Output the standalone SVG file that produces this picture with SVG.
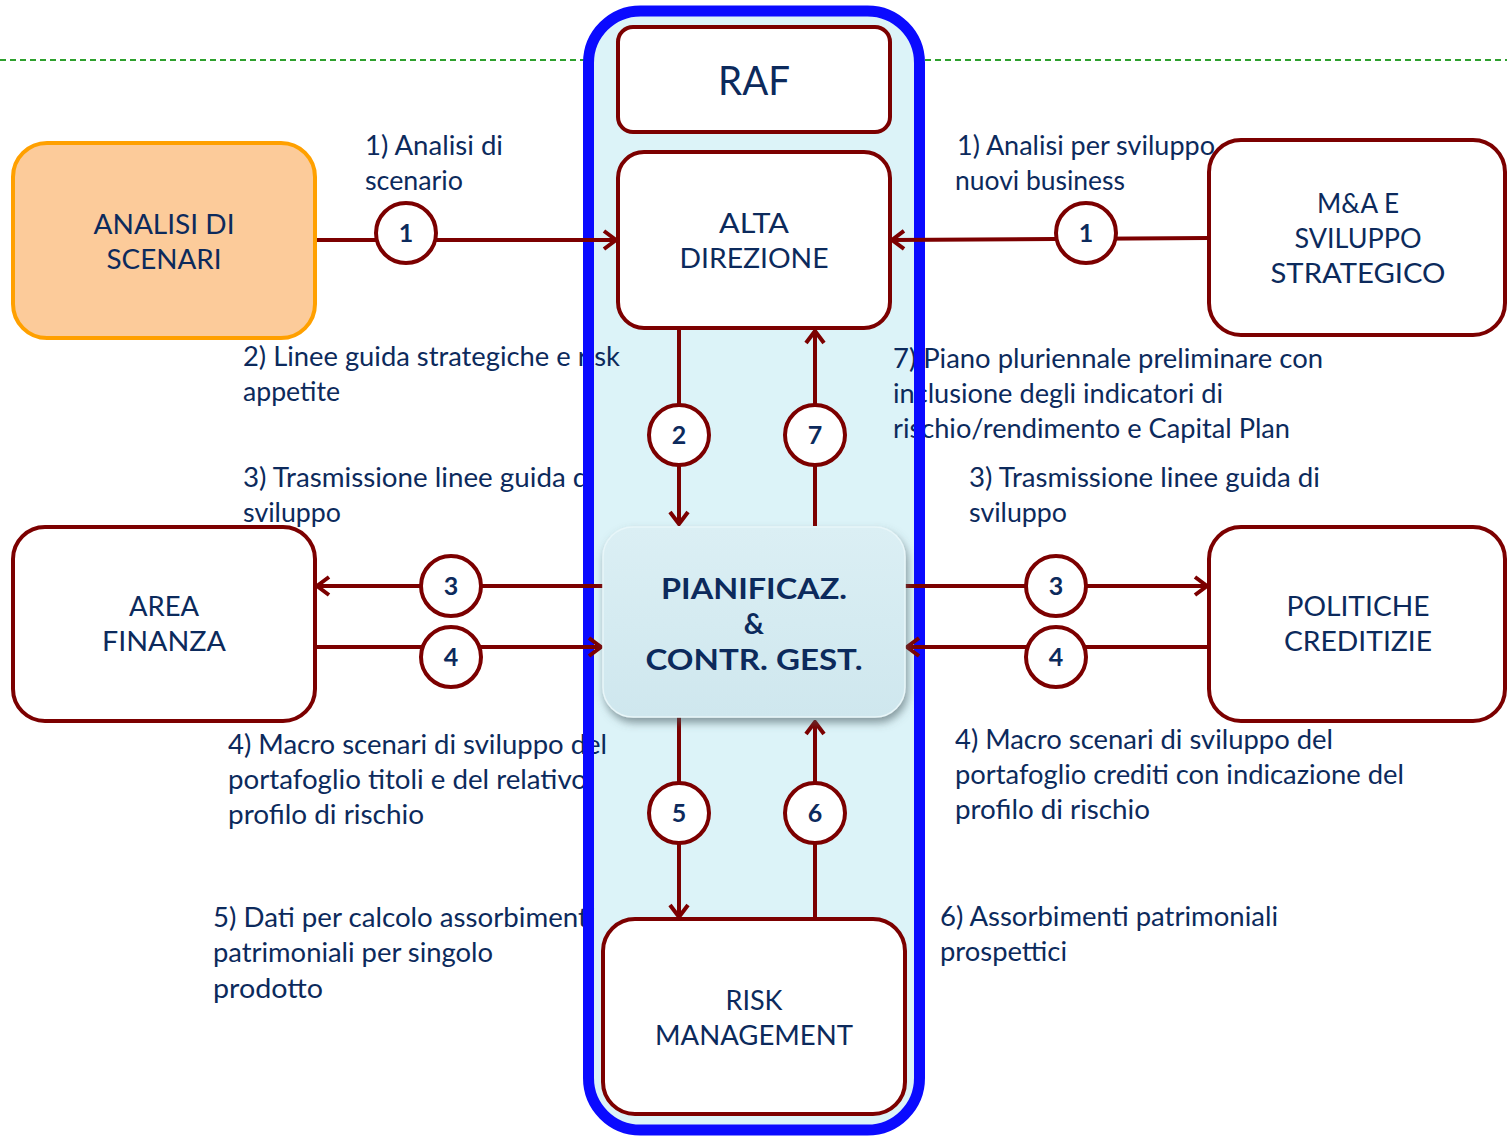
<svg xmlns="http://www.w3.org/2000/svg" width="1507" height="1137" viewBox="0 0 1507 1137">
<style>
.box{fill:#fff;stroke:#7c0000;stroke-width:4}
.lbl{font-family:Lato,"Liberation Sans",sans-serif;font-size:26px;fill:#0c2a5c}
.nt{font-family:Lato,"Liberation Sans",sans-serif;font-size:27px;fill:#0c2a5c;text-anchor:middle}
.nb{font-family:Lato,"Liberation Sans",sans-serif;font-size:28px;font-weight:bold;fill:#0c2a5c;text-anchor:middle}
.cn{font-family:Lato,"Liberation Sans",sans-serif;font-size:25px;font-weight:bold;fill:#0c2a5c;text-anchor:middle}
.ln{stroke:#7c0000;stroke-width:4;fill:none}
.circ{fill:#fff;stroke:#7c0000;stroke-width:4}
</style>
<defs>
<marker id="ah" markerUnits="userSpaceOnUse" viewBox="0 0 16 22" markerWidth="16" markerHeight="22" refX="14" refY="11" orient="auto">
<path d="M2,2 L14,11 L2,20" fill="none" stroke="#7c0000" stroke-width="4"/>
</marker>
<linearGradient id="pg" x1="0" y1="0" x2="0" y2="1">
<stop offset="0" stop-color="#dbeff4"/>
<stop offset="1" stop-color="#cfe7ee"/>
</linearGradient>
<filter id="sh" x="-10%" y="-10%" width="125%" height="130%">
<feDropShadow dx="2" dy="5" stdDeviation="4" flood-color="#4a5a60" flood-opacity="0.6"/>
</filter>
</defs>

<g id="separator">
<line x1="0" y1="60" x2="584" y2="60" stroke="#2ea02e" stroke-width="2" stroke-dasharray="6,4"/>
<line x1="925" y1="60" x2="1507" y2="60" stroke="#2ea02e" stroke-width="2" stroke-dasharray="6,4"/>
</g>

<g id="container-fill">
<rect x="588.5" y="11" width="331" height="1119" rx="52" fill="#dcf3f8"/>
</g>

<g id="labels">
<text class="lbl" x="365" y="155" textLength="138" lengthAdjust="spacingAndGlyphs">1) Analisi di</text>
<text class="lbl" x="365" y="190" textLength="98" lengthAdjust="spacingAndGlyphs">scenario</text>
<text class="lbl" x="957" y="155" textLength="258" lengthAdjust="spacingAndGlyphs">1) Analisi per sviluppo</text>
<text class="lbl" x="955" y="190" textLength="170" lengthAdjust="spacingAndGlyphs">nuovi business</text>
<text class="lbl" x="243" y="366" textLength="377" lengthAdjust="spacingAndGlyphs">2) Linee guida strategiche e risk</text>
<text class="lbl" x="243" y="401" textLength="97" lengthAdjust="spacingAndGlyphs">appetite</text>
<text class="lbl" x="893" y="368" textLength="430" lengthAdjust="spacingAndGlyphs">7) Piano pluriennale preliminare con</text>
<text class="lbl" x="893" y="403" textLength="330" lengthAdjust="spacingAndGlyphs">inclusione degli indicatori di</text>
<text class="lbl" x="893" y="438" textLength="397" lengthAdjust="spacingAndGlyphs">rischio/rendimento e Capital Plan</text>
<text class="lbl" x="243" y="487" textLength="352" lengthAdjust="spacingAndGlyphs">3) Trasmissione linee guida di</text>
<text class="lbl" x="243" y="522" textLength="98" lengthAdjust="spacingAndGlyphs">sviluppo</text>
<text class="lbl" x="969" y="487" textLength="351" lengthAdjust="spacingAndGlyphs">3) Trasmissione linee guida di</text>
<text class="lbl" x="969" y="522" textLength="98" lengthAdjust="spacingAndGlyphs">sviluppo</text>
<text class="lbl" x="228" y="754" textLength="379" lengthAdjust="spacingAndGlyphs">4) Macro scenari di sviluppo del</text>
<text class="lbl" x="228" y="789" textLength="359" lengthAdjust="spacingAndGlyphs">portafoglio titoli e del relativo</text>
<text class="lbl" x="228" y="824" textLength="196" lengthAdjust="spacingAndGlyphs">profilo di rischio</text>
<text class="lbl" x="955" y="749" textLength="378" lengthAdjust="spacingAndGlyphs">4) Macro scenari di sviluppo del</text>
<text class="lbl" x="955" y="784" textLength="449" lengthAdjust="spacingAndGlyphs">portafoglio crediti con indicazione del</text>
<text class="lbl" x="955" y="819" textLength="195" lengthAdjust="spacingAndGlyphs">profilo di rischio</text>
<text class="lbl" x="213" y="927" textLength="382" lengthAdjust="spacingAndGlyphs">5) Dati per calcolo assorbimenti</text>
<text class="lbl" x="213" y="962" textLength="280" lengthAdjust="spacingAndGlyphs">patrimoniali per singolo</text>
<text class="lbl" x="213" y="998" textLength="110" lengthAdjust="spacingAndGlyphs">prodotto</text>
<text class="lbl" x="940" y="926" textLength="338" lengthAdjust="spacingAndGlyphs">6) Assorbimenti patrimoniali</text>
<text class="lbl" x="940" y="961" textLength="127" lengthAdjust="spacingAndGlyphs">prospettici</text>
</g>

<g id="container-border">
<rect x="588.5" y="11" width="331" height="1119" rx="52" fill="none" stroke="#0a0aff" stroke-width="11"/>
</g>

<g id="connectors">
<line class="ln" x1="316" y1="240" x2="616" y2="240" marker-end="url(#ah)"/>
<line class="ln" x1="1208" y1="238" x2="892" y2="240" marker-end="url(#ah)"/>
<line class="ln" x1="679" y1="329" x2="679" y2="524" marker-end="url(#ah)"/>
<line class="ln" x1="815" y1="526" x2="815" y2="331" marker-end="url(#ah)"/>
<line class="ln" x1="603" y1="586" x2="317" y2="586" marker-end="url(#ah)"/>
<line class="ln" x1="316" y1="647" x2="601" y2="647" marker-end="url(#ah)"/>
<line class="ln" x1="905" y1="586" x2="1207" y2="586" marker-end="url(#ah)"/>
<line class="ln" x1="1208" y1="647" x2="907" y2="647" marker-end="url(#ah)"/>
<line class="ln" x1="679" y1="717" x2="679" y2="917" marker-end="url(#ah)"/>
<line class="ln" x1="815" y1="919" x2="815" y2="722" marker-end="url(#ah)"/>
<circle class="circ" cx="406" cy="233" r="30"/><text class="cn" x="406" y="242">1</text>
<circle class="circ" cx="1086" cy="233" r="30"/><text class="cn" x="1086" y="242">1</text>
<circle class="circ" cx="679" cy="435" r="30"/><text class="cn" x="679" y="444">2</text>
<circle class="circ" cx="815" cy="435" r="30"/><text class="cn" x="815" y="444">7</text>
<circle class="circ" cx="451" cy="586" r="30"/><text class="cn" x="451" y="595">3</text>
<circle class="circ" cx="451" cy="657" r="30"/><text class="cn" x="451" y="666">4</text>
<circle class="circ" cx="1056" cy="586" r="30"/><text class="cn" x="1056" y="595">3</text>
<circle class="circ" cx="1056" cy="657" r="30"/><text class="cn" x="1056" y="666">4</text>
<circle class="circ" cx="679" cy="813" r="30"/><text class="cn" x="679" y="822">5</text>
<circle class="circ" cx="815" cy="813" r="30"/><text class="cn" x="815" y="822">6</text>
</g>

<g id="raf">
<rect class="box" x="618" y="27" width="272" height="105" rx="15"/>
<text class="nt" x="754" y="95" style="font-size:40px" textLength="72" lengthAdjust="spacingAndGlyphs">RAF</text>
</g>

<g id="alta-direzione">
<rect class="box" x="618" y="152" width="272" height="176" rx="26"/>
<text class="nt" x="754" y="233" textLength="70" lengthAdjust="spacingAndGlyphs">ALTA</text>
<text class="nt" x="754" y="268" textLength="149" lengthAdjust="spacingAndGlyphs">DIREZIONE</text>
</g>

<g id="analisi-scenari">
<rect x="13" y="143" width="302" height="195" rx="34" fill="#fccb9a" stroke="#ffa000" stroke-width="4"/>
<text class="nt" x="164" y="234" textLength="141" lengthAdjust="spacingAndGlyphs">ANALISI DI</text>
<text class="nt" x="164" y="269" textLength="115" lengthAdjust="spacingAndGlyphs">SCENARI</text>
</g>

<g id="ma-sviluppo">
<rect class="box" x="1209" y="140" width="296" height="195" rx="32"/>
<text class="nt" x="1358" y="213" textLength="82" lengthAdjust="spacingAndGlyphs">M&amp;A E</text>
<text class="nt" x="1358" y="248" textLength="127" lengthAdjust="spacingAndGlyphs">SVILUPPO</text>
<text class="nt" x="1358" y="283" textLength="175" lengthAdjust="spacingAndGlyphs">STRATEGICO</text>
</g>

<g id="area-finanza">
<rect class="box" x="13" y="527" width="302" height="194" rx="32"/>
<text class="nt" x="164" y="616" textLength="70" lengthAdjust="spacingAndGlyphs">AREA</text>
<text class="nt" x="164" y="651" textLength="124" lengthAdjust="spacingAndGlyphs">FINANZA</text>
</g>

<g id="politiche-creditizie">
<rect class="box" x="1209" y="527" width="296" height="194" rx="32"/>
<text class="nt" x="1358" y="616" textLength="143" lengthAdjust="spacingAndGlyphs">POLITICHE</text>
<text class="nt" x="1358" y="651" textLength="148" lengthAdjust="spacingAndGlyphs">CREDITIZIE</text>
</g>

<g id="pianificazione">
<rect x="603" y="527" width="302" height="190" rx="30" fill="url(#pg)" stroke="#e8f6f9" stroke-width="1.5" filter="url(#sh)"/>
<text class="nb" x="754" y="599" textLength="186" lengthAdjust="spacingAndGlyphs">PIANIFICAZ.</text>
<text class="nb" x="754" y="634">&amp;</text>
<text class="nb" x="754" y="670" textLength="217" lengthAdjust="spacingAndGlyphs">CONTR. GEST.</text>
</g>

<g id="risk-management">
<rect class="box" x="603" y="919" width="302" height="195" rx="32"/>
<text class="nt" x="754" y="1010" textLength="57" lengthAdjust="spacingAndGlyphs">RISK</text>
<text class="nt" x="754" y="1045" textLength="198" lengthAdjust="spacingAndGlyphs">MANAGEMENT</text>
</g>
</svg>
